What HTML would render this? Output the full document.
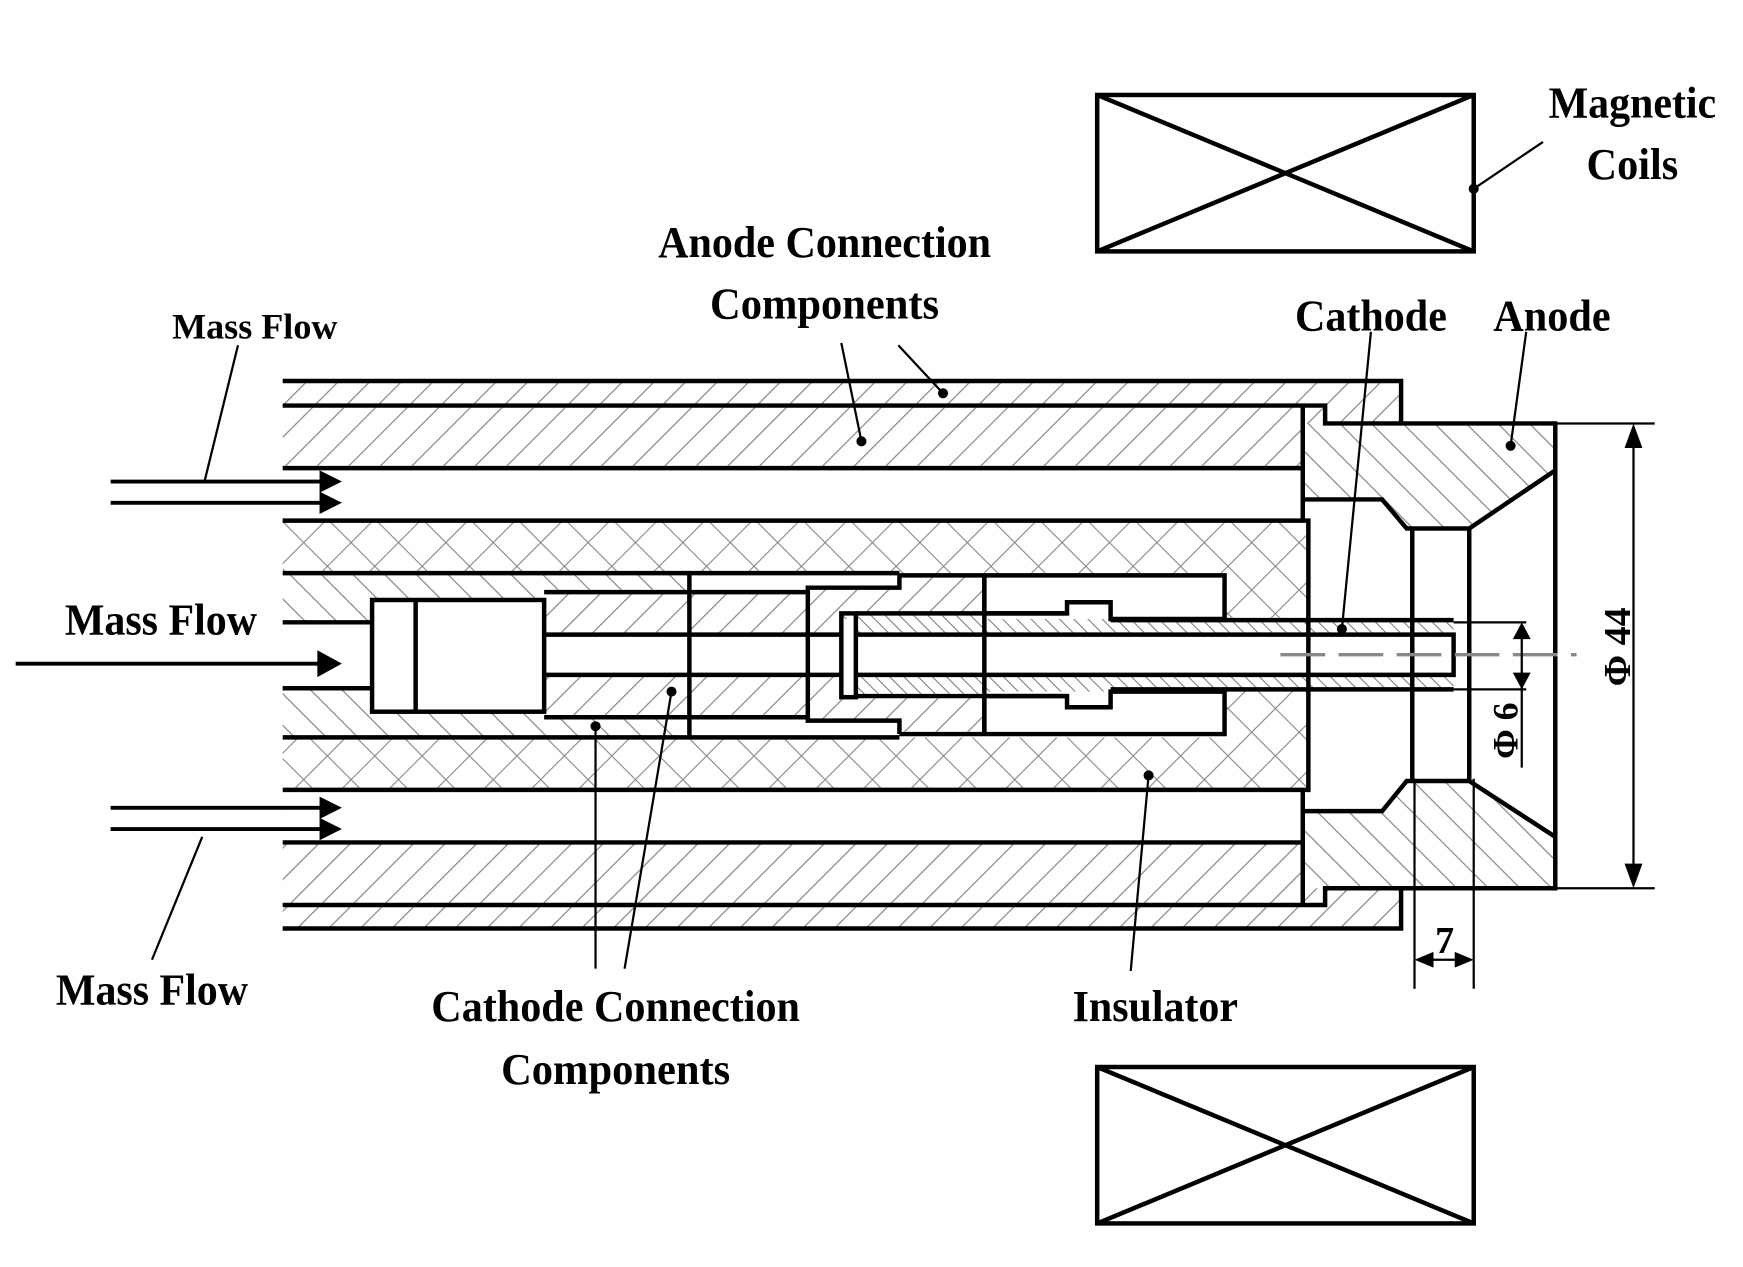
<!DOCTYPE html>
<html><head><meta charset="utf-8"><style>
html,body{margin:0;padding:0;background:#fff}
svg{display:block}
text{font-family:"Liberation Serif",serif;font-weight:bold;fill:#000}
</style></head><body>
<svg width="1743" height="1267" viewBox="4 3 1560 1134" xmlns="http://www.w3.org/2000/svg">
<defs>
<pattern id="hb" width="20" height="20" patternUnits="userSpaceOnUse" patternTransform="rotate(45)">
<rect width="20" height="20" fill="#fff"/><line x1="0" y1="0" x2="0" y2="20" stroke="#888" stroke-width="2.2"/></pattern>
<pattern id="hf" width="20" height="20" patternUnits="userSpaceOnUse" patternTransform="rotate(-45)">
<rect width="20" height="20" fill="#fff"/><line x1="0" y1="0" x2="0" y2="20" stroke="#888" stroke-width="2.2"/></pattern>
<pattern id="hs" width="9" height="9" patternUnits="userSpaceOnUse" patternTransform="rotate(-45)">
<rect width="9" height="9" fill="#fff"/><line x1="0" y1="0" x2="0" y2="9" stroke="#777" stroke-width="1.8"/></pattern>
<pattern id="hx" width="30" height="30" patternUnits="userSpaceOnUse" patternTransform="rotate(45)">
<rect width="30" height="30" fill="#fff"/><line x1="0" y1="0" x2="0" y2="30" stroke="#888" stroke-width="2"/><line x1="0" y1="0" x2="30" y2="0" stroke="#888" stroke-width="2"/></pattern>
<marker id="ar" markerWidth="10" markerHeight="10" refX="9" refY="5" orient="auto" markerUnits="userSpaceOnUse"><path d="M0,0 L10,5 L0,10 L3,5 Z" fill="#000"/></marker>
</defs>

<g stroke="#000" stroke-width="4" fill="none">
<rect x="986" y="88" width="337" height="140"/>
<line x1="986" y1="88" x2="1323" y2="228"/><line x1="986" y1="228" x2="1323" y2="88"/>
<rect x="986" y="958" width="337" height="140"/>
<line x1="986" y1="958" x2="1323" y2="1098"/><line x1="986" y1="1098" x2="1323" y2="958"/>
</g>

<rect x="257" y="344" width="913" height="490" fill="url(#hb)"/>
<path d="M1170,344 H1258 V382 H1170 Z M1170,796 H1258 V834 H1170 Z" fill="url(#hb)"/>
<rect x="257" y="422" width="913" height="47" fill="#fff"/>
<rect x="257" y="710" width="913" height="47" fill="#fff"/>
<rect x="257" y="469" width="916" height="241" fill="url(#hx)"/>
<rect x="257" y="516" width="843" height="147" fill="#fff"/>
<rect x="257" y="516" width="234" height="147" fill="url(#hf)"/>
<rect x="257" y="560" width="80" height="59" fill="#fff"/>
<rect x="337" y="540" width="154" height="100" fill="#fff"/>
<rect x="491" y="533" width="236" height="112" fill="url(#hb)"/>
<rect x="491" y="516" width="130" height="17" fill="url(#hf)"/>
<rect x="491" y="645" width="130" height="18" fill="url(#hf)"/>
<path d="M727,529 H809 V518 H885 V658 H809 V648 H727 Z" fill="url(#hb)"/>
<rect x="757" y="552" width="241" height="74" fill="url(#hs)"/>
<rect x="959" y="542" width="39" height="94" fill="url(#hs)"/>
<rect x="885" y="516" width="211" height="41" fill="#fff"/>
<rect x="885" y="622" width="211" height="41" fill="#fff"/>
<rect x="998" y="558" width="307" height="62" fill="url(#hs)"/>
<rect x="491" y="571" width="814" height="36" fill="#fff"/>
<rect x="757" y="557" width="13" height="70" fill="#fff"/>

<path fill-rule="evenodd" fill="url(#hf)" d="M1170,382 H1396 V798 H1170 Z M1170,450 H1241 L1263,476 H1319 L1396,424 V752 L1319,702 H1263 L1241,729 H1170 Z"/>

<g stroke="#000" stroke-width="4" fill="none">
<path d="M257,344 H1258 V382 H1396 V798 H1258 V834 H257"/>
<path d="M257,366 H1190 V382 H1258"/><path d="M257,813 H1190 V798 H1258"/>
<path d="M1170,366 V469"/><path d="M1170,710 V813"/>
<line x1="257" y1="422" x2="1170" y2="422"/>
<path d="M257,469 H1175 V710 H257"/>
<line x1="257" y1="757" x2="1170" y2="757"/>
<path d="M1170,450 H1241 L1263,476 H1319 L1396,424"/>
<path d="M1170,729 H1241 L1263,702 H1319 L1396,752"/>
<line x1="1268" y1="476" x2="1268" y2="702"/>
<line x1="1319" y1="476" x2="1319" y2="702"/>
<path d="M257,516 H809 M809,518 H1100 V557 H998 V542 H959 V552 H885 V518"/>
<path d="M257,663 H809 M809,660 H1100 V622 H998 V636 H959 V626 H885 V660"/>
<path d="M257,560 H337 M257,619 H337"/>
<rect x="337" y="540" width="154" height="100"/>
<line x1="376" y1="540" x2="376" y2="640"/>
<path d="M491,533 H727 V529 H809 V518"/><path d="M491,645 H727 V648 H809 V660"/>
<line x1="621" y1="516" x2="621" y2="663"/>
<line x1="727" y1="533" x2="727" y2="645"/>
<line x1="885" y1="518" x2="885" y2="660"/>
<path d="M491,571 H757 M491,607 H757"/>
<rect x="757" y="552" width="13" height="75"/>
<path d="M770,552 H959 M770,626 H959"/>
<path d="M770,571 H1305 V607 H770"/>
<path d="M998,558 H1305 M998,620 H1305"/>
</g>
<line x1="1150" y1="589" x2="1415" y2="589" stroke="#888" stroke-width="3" stroke-dasharray="40,12"/>

<g stroke="#000" stroke-width="3.5" fill="none">
<line x1="103" y1="434" x2="306" y2="434" marker-end="url(#ar)"/>
<line x1="103" y1="453" x2="306" y2="453" marker-end="url(#ar)"/>
<line x1="103" y1="726" x2="306" y2="726" marker-end="url(#ar)"/>
<line x1="103" y1="745" x2="306" y2="745" marker-end="url(#ar)"/>
<line x1="18" y1="597" x2="306" y2="597" marker-end="url(#ar)"/>
</g>
<path d="M290,424 L310,434 L290,444 Z M290,443 L310,453 L290,463 Z M290,716 L310,726 L290,736 Z M290,735 L310,745 L290,755 Z M288,585 L310,597 L288,609 Z" fill="#000"/>

<g stroke="#000" stroke-width="2" fill="none">
<line x1="1396" y1="382" x2="1485" y2="382"/><line x1="1396" y1="798" x2="1485" y2="798"/>
<line x1="1466" y1="390" x2="1466" y2="790"/>
<line x1="1305" y1="560" x2="1370" y2="560"/><line x1="1305" y1="620" x2="1370" y2="620"/>
<line x1="1366" y1="566" x2="1366" y2="690"/>
<line x1="1270" y1="700" x2="1270" y2="888"/><line x1="1323" y1="700" x2="1323" y2="888"/>
<line x1="1274" y1="862" x2="1319" y2="862"/>
</g>
<path d="M1466,382 L1458,404 L1474,404 Z M1466,798 L1458,776 L1474,776 Z M1366,560 L1358,575 L1374,575 Z M1366,620 L1358,605 L1374,605 Z M1270,862 L1287,855 L1287,869 Z M1323,862 L1306,855 L1306,869 Z" fill="#000"/>
<text x="1297" y="856" font-size="34" text-anchor="middle">7</text>
<text transform="translate(1463,582) rotate(-90)" font-size="34" text-anchor="middle">Φ 44</text>
<text transform="translate(1362,657) rotate(-90)" font-size="32" text-anchor="middle">Φ 6</text>

<g stroke="#000" stroke-width="2" fill="none">
<line x1="1385" y1="130" x2="1323" y2="172"/>
<line x1="757" y1="310" x2="775" y2="398"/>
<line x1="808" y1="312" x2="848" y2="355"/>
<line x1="1231" y1="300" x2="1205" y2="566"/>
<line x1="1370" y1="300" x2="1356" y2="402"/>
<line x1="217" y1="312" x2="187" y2="434"/>
<line x1="140" y1="862" x2="185" y2="752"/>
<line x1="537" y1="870" x2="537" y2="653"/>
<line x1="563" y1="870" x2="605" y2="622"/>
<line x1="1016" y1="872" x2="1032" y2="697"/>
</g>
<g fill="#000">
<circle cx="1323" cy="172" r="4.5"/><circle cx="775" cy="398" r="4.5"/><circle cx="848" cy="355" r="4.5"/>
<circle cx="1205" cy="566" r="4.5"/><circle cx="1356" cy="402" r="4.5"/><circle cx="537" cy="653" r="4.5"/>
<circle cx="605" cy="622" r="4.5"/><circle cx="1032" cy="697" r="4.5"/>
</g>

<text x="1465" y="108" font-size="40" text-anchor="middle" textLength="150" lengthAdjust="spacingAndGlyphs">Magnetic</text>
<text x="1465" y="163" font-size="40" text-anchor="middle" textLength="82" lengthAdjust="spacingAndGlyphs">Coils</text>
<text x="742" y="233" font-size="40" text-anchor="middle" textLength="298" lengthAdjust="spacingAndGlyphs">Anode Connection</text>
<text x="742" y="288" font-size="40" text-anchor="middle" textLength="205" lengthAdjust="spacingAndGlyphs">Components</text>
<text x="1231" y="299" font-size="40" text-anchor="middle" textLength="136" lengthAdjust="spacingAndGlyphs">Cathode</text>
<text x="1393" y="299" font-size="40" text-anchor="middle" textLength="105" lengthAdjust="spacingAndGlyphs">Anode</text>
<text x="232" y="306" font-size="32" text-anchor="middle" textLength="148" lengthAdjust="spacingAndGlyphs">Mass Flow</text>
<text x="148" y="571" font-size="40" text-anchor="middle" textLength="172" lengthAdjust="spacingAndGlyphs">Mass Flow</text>
<text x="140" y="902" font-size="40" text-anchor="middle" textLength="172" lengthAdjust="spacingAndGlyphs">Mass Flow</text>
<text x="555" y="917" font-size="40" text-anchor="middle" textLength="330" lengthAdjust="spacingAndGlyphs">Cathode Connection</text>
<text x="555" y="973" font-size="40" text-anchor="middle" textLength="205" lengthAdjust="spacingAndGlyphs">Components</text>
<text x="1038" y="917" font-size="40" text-anchor="middle" textLength="148" lengthAdjust="spacingAndGlyphs">Insulator</text>
</svg>
</body></html>
